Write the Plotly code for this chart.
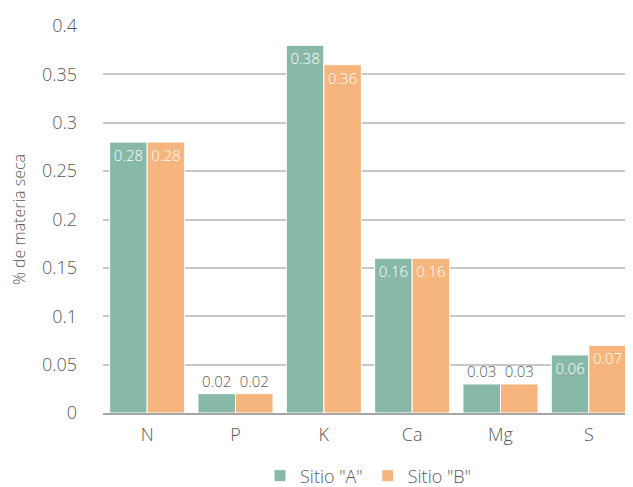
import plotly.graph_objects as go

categories = ["N", "P", "K", "Ca", "Mg", "S"]
sitio_a = [0.28, 0.02, 0.38, 0.16, 0.03, 0.06]
sitio_b = [0.28, 0.02, 0.36, 0.16, 0.03, 0.07]
series_names = ['Sitio "A"', 'Sitio "B"']
y_ticks = [0, 0.05, 0.1, 0.15, 0.2, 0.25, 0.3, 0.35, 0.4]
y_tick_labels = ["0", "0.05", "0.1", "0.15", "0.2", "0.25", "0.3", "0.35", "0.4"]

FONT = "Open Sans, sans-serif"
GRAY = "#595959"

def positions(vals):
    return ["outside" if v < 0.05 else "inside" for v in vals]

fig = go.Figure()
for name, vals, color in [(series_names[0], sitio_a, "#88B8A7"), (series_names[1], sitio_b, "#F5B57D")]:
    fig.add_trace(go.Bar(
        x=categories, y=vals, name=name,
        marker=dict(color=color, line=dict(color="white", width=1)),
        text=[f"{v:g}" for v in vals],
        textposition=positions(vals),
        textangle=0,
        insidetextanchor="end",
        insidetextfont=dict(color="white", size=15, family=FONT, weight=300),
        outsidetextfont=dict(color=GRAY, size=15, family=FONT, weight=300),
        cliponaxis=False,
    ))

fig.update_layout(
    width=633, height=487,
    barmode="group", bargap=0.15, bargroupgap=0.0,
    plot_bgcolor="white", paper_bgcolor="white",
    margin=dict(l=95, r=8, t=18, b=82, autoexpand=False),
    font=dict(family=FONT, color=GRAY, size=18, weight=300),
    showlegend=True,
    legend=dict(orientation="h", x=0.5, xanchor="center", y=-0.115, yanchor="top",
                font=dict(size=18, color=GRAY, family=FONT, weight=300),
                traceorder="normal"),
    xaxis=dict(showgrid=False, showline=True, linecolor="#A6A6A6", linewidth=2,
               ticks="", automargin=False, ticklabelstandoff=4,
               tickfont=dict(size=18, color=GRAY, weight=300)),
    yaxis=dict(range=[0, 0.4], tickvals=y_ticks, ticktext=y_tick_labels,
               showgrid=True, gridcolor="#C8C8C8", gridwidth=1.5, zeroline=False,
               showline=False, ticks="", ticklabelstandoff=25, automargin=False,
               tickfont=dict(size=18, color=GRAY, weight=300),
               title=dict(text="% de materia seca", font=dict(size=16, color=GRAY, weight=300), standoff=25)),
)
fig.write_html("out.html")
